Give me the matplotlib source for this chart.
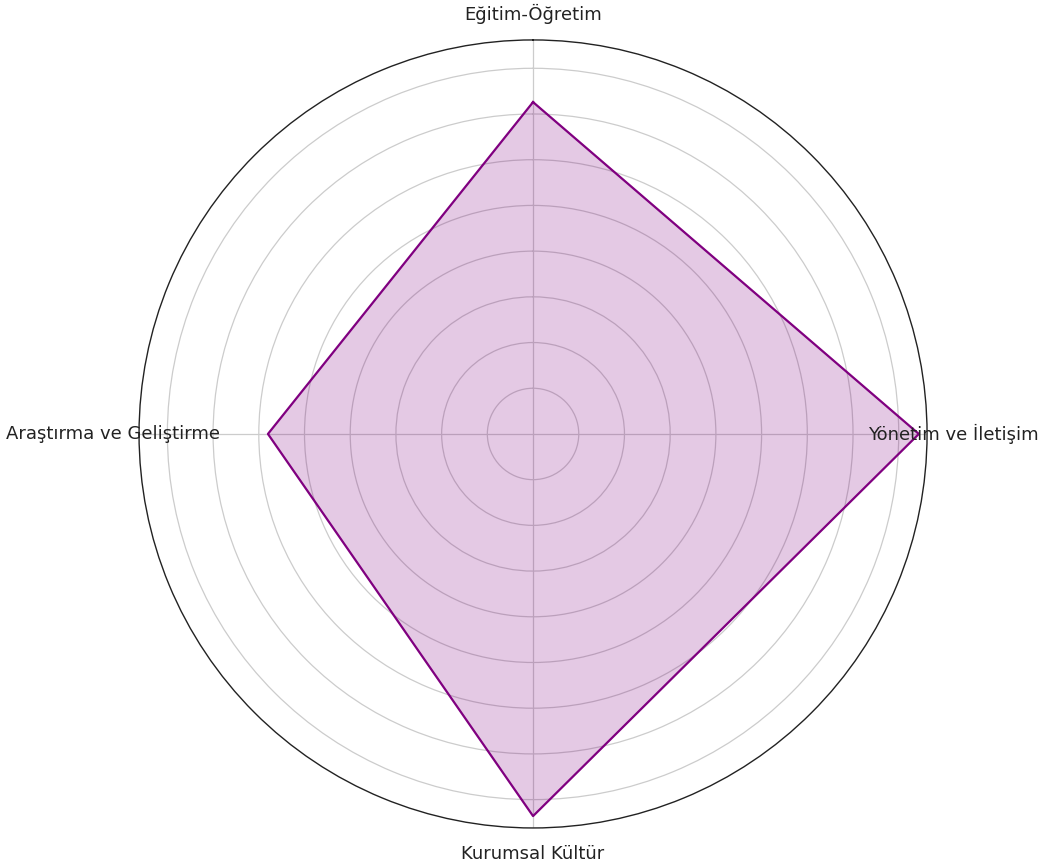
import matplotlib.pyplot as plt
import numpy as np

# Data
categories = ['Eğitim-Öğretim', 'Yönetim ve İletişim', 'Kurumsal Kültür', 'Araştırma ve Geliştirme']
values = [72.6, 84.4, 83.6, 58.0]
ring_ticks = [10, 20, 30, 40, 50, 60, 70, 80]
r_max = 86.2

plt.rcParams['font.family'] = ['DejaVu Sans']

fig = plt.figure(figsize=(10.4, 8.66), dpi=100)
ax = fig.add_axes([0.1337, 0.0439, 0.7577, 0.91], projection='polar')
ax.set_theta_offset(np.pi / 2)
ax.set_theta_direction(-1)

n = len(categories)
angles = np.linspace(0, 2 * np.pi, n, endpoint=False)
closed_angles = np.append(angles, angles[0])
closed_vals = np.append(values, values[0])

ax.fill(closed_angles, closed_vals, color='purple', alpha=0.21, zorder=2)
ax.plot(closed_angles, closed_vals, color='purple', linewidth=1.6, zorder=3)

ax.set_ylim(0, r_max)
ax.set_yticks(ring_ticks)
ax.set_yticklabels([])
ax.set_xticks(angles)
ax.set_xticklabels([])
ax.grid(True, color='#cccccc', linewidth=0.9)
ax.set_axisbelow(True)
ax.spines['polar'].set_color('#222222')
ax.spines['polar'].set_linewidth(1.0)

# category labels centred just outside the outer ring
for ang, lab in zip(angles, categories):
    ax.text(ang, r_max * 1.066, lab, ha='center', va='center', fontsize=13,
            color='#222222', clip_on=False, zorder=5)

plt.savefig('out.png', dpi=100, facecolor='white')
plt.close()
